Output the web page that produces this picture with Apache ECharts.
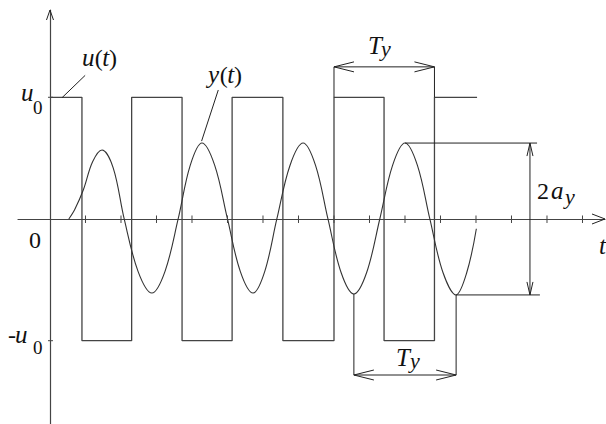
<!DOCTYPE html>
<html><head><meta charset="utf-8">
<script src="https://cdn.jsdelivr.net/npm/echarts@6/dist/echarts.min.js"></script>
<style>html,body{margin:0;padding:0;background:#fff}#c{width:606px;height:424px}
#c text{font-family:"Liberation Serif",serif !important}</style>
</head><body><div id="c"></div>
<script>
// ---- data (t in tick units, values in units of u0) ----
const switchTimes = [0, 0.9, 2.3, 3.72, 5.13, 6.56, 8.0, 9.41, 10.83, 12.03];
const uLevels = [1, -1, 1, -1, 1, -1, 1, -1, 1];
const yTimes = [0.53, 0.70, 0.94, 1.20, 1.465, 1.78, 2.09, 2.48, 2.87, 3.24, 3.61, 3.95, 4.28, 4.64, 5.00, 5.36, 5.72, 6.05, 6.39, 6.76, 7.13, 7.48, 7.83, 8.20, 8.56, 8.92, 9.29, 9.65, 10.00, 10.35, 10.70, 11.07, 11.44, 11.73, 12.01];
const yValues = [0, 0.08, 0.24, 0.47, 0.567, 0.42, 0, -0.43, -0.608, -0.43, 0, 0.44, 0.624, 0.44, 0, -0.43, -0.608, -0.43, 0, 0.44, 0.624, 0.44, 0, -0.44, -0.616, -0.44, 0, 0.44, 0.624, 0.44, 0, -0.44, -0.624, -0.45, -0.08];
const tickTimes = [1, 2, 3, 4, 5, 6, 7, 8, 9, 10, 11, 12, 13, 14, 15];
const levelTicks = [1, -1];

// ---- annotation geometry (data coordinates) ----
const xMin = -0.9014, xMax = 15.634, yMin = -1.6845, yMax = 1.7173;
const tyTopLevel = 1.25, tyBottomLevel = -1.282;
const tyTopSpan = [switchTimes[6], switchTimes[8]];
const peakIdx = 28, troughIdxA = 24, troughIdxB = 32;
const ampArrowT = 13.52, peakLineEnd = 13.72, troughLineEnd = 13.80;
const uLeader = [0.34, 0.997, 0.99, 1.18];
const yLeader = [4.27, 0.64, 4.74, 1.06];

// label pieces: text, style kind (i italic, r roman, s subscript digit, j subscript italic), baseline anchor
const labelTexts = ['u', '(', 't', ')', 'y', '(', 't', ')', 'u', '0', '0', '-', 'u', '0', 't', 'T', 'y', 'T', 'y', '2', 'a', 'y'];
const labelKinds = ['i', 'r', 'i', 'r', 'i', 'r', 'i', 'r', 'i', 's', 'r', 'r', 'i', 's', 'i', 'i', 'j', 'i', 'j', 'r', 'i', 'j'];
const labelT = [0.901, 1.262, 1.473, 1.662, 4.451, 4.78, 4.99, 5.18, -0.817, -0.479, -0.423, -1.183, -0.986, -0.479, 15.465, 8.958, 9.324, 9.746, 10.141, 13.718, 14.113, 14.507];
const labelV = [1.265, 1.265, 1.265, 1.265, 1.126, 1.126, 1.126, 1.126, 0.978, 0.871, -0.234, -1.011, -1.011, -1.101, -0.279, 1.364, 1.348, -1.2, -1.216, 0.173, 0.173, 0.131];

// ---- build series inputs ----
const uData = [];
uLevels.forEach((lv, i) => { uData.push([switchTimes[i], lv]); uData.push([switchTimes[i + 1], lv]); });
const yData = yTimes.map((t, i) => [t, yValues[i]]);

const pk = [yTimes[peakIdx], yValues[peakIdx]];
const trA = [yTimes[troughIdxA], yValues[troughIdxA]];
const trB = [yTimes[troughIdxB], yValues[troughIdxB]];
const segments = [
  [tyTopSpan[0], 1, tyTopSpan[0], tyTopLevel],
  [tyTopSpan[1], 1, tyTopSpan[1], tyTopLevel],
  [tyTopSpan[0], tyTopLevel, tyTopSpan[1], tyTopLevel],
  [pk[0], pk[1], peakLineEnd, pk[1]],
  [trB[0], trB[1], troughLineEnd, trB[1]],
  [ampArrowT, pk[1], ampArrowT, trB[1]],
  [trA[0], trA[1], trA[0], tyBottomLevel],
  [trB[0], trB[1], trB[0], tyBottomLevel],
  [trA[0], tyBottomLevel, trB[0], tyBottomLevel],
  uLeader, yLeader
];
// arrows: [t, v, direction(0 right,1 up,2 left,3 down), kind(0 axis-y,1 axis-x,2 T,3 amp)]
const arrows = [
  [0, yMax, 1, 0], [xMax, 0, 0, 1],
  [tyTopSpan[0], tyTopLevel, 2, 2], [tyTopSpan[1], tyTopLevel, 0, 2],
  [trA[0], tyBottomLevel, 2, 2], [trB[0], tyBottomLevel, 0, 2],
  [ampArrowT, pk[1], 1, 3], [ampArrowT, trB[1], 3, 3]
];
const arrowSize = [[10, 3.5], [13, 5], [20, 5], [13, 3]];

const FAM = 'Liberation Serif';
const kindStyle = {
  i: {fontStyle: 'italic', fontSize: 25},
  r: {fontStyle: 'normal', fontSize: 24},
  s: {fontStyle: 'normal', fontSize: 19},
  j: {fontStyle: 'italic', fontSize: 22}
};

const chart = echarts.init(document.getElementById('c'), null, {renderer: 'svg'});
const axisCommon = {
  type: 'value', axisTick: {show: false}, axisLabel: {show: false}, splitLine: {show: false},
  axisLine: {onZero: true, lineStyle: {color: '#444', width: 1.2}}
};
chart.setOption({
  animation: false,
  backgroundColor: '#fff',
  textStyle: {fontFamily: FAM},
  grid: {left: 18, right: 1, top: 10, bottom: 0},
  xAxis: Object.assign({min: xMin, max: xMax}, axisCommon),
  yAxis: Object.assign({min: yMin, max: yMax}, axisCommon),
  series: [
    {type: 'line', data: uData, symbol: 'none', lineStyle: {color: '#444', width: 1.3}, z: 3},
    {type: 'line', data: yData, smooth: 0.35, symbol: 'none', lineStyle: {color: '#333', width: 1.1}, z: 4},
    {type: 'custom', data: tickTimes.map(t => [t, 0]), z: 5, renderItem: (p, api) => {
      const c = api.coord([api.value(0), 0]);
      return {type: 'line', shape: {x1: c[0], y1: c[1] - 3.5, x2: c[0], y2: c[1] + 4}, style: {stroke: '#444', lineWidth: 1}};
    }},
    {type: 'custom', data: levelTicks.map(v => [0, v]), z: 5, renderItem: (p, api) => {
      const c = api.coord([0, api.value(1)]);
      return {type: 'line', shape: {x1: c[0] - 2, y1: c[1], x2: c[0] + 3, y2: c[1]}, style: {stroke: '#444', lineWidth: 1}};
    }},
    {type: 'custom', data: segments, z: 5, renderItem: (p, api) => {
      const a = api.coord([api.value(0), api.value(1)]);
      const b = api.coord([api.value(2), api.value(3)]);
      return {type: 'line', shape: {x1: a[0], y1: a[1], x2: b[0], y2: b[1]}, style: {stroke: '#222', lineWidth: 1}};
    }},
    {type: 'custom', data: arrows, z: 6, renderItem: (p, api) => {
      const c = api.coord([api.value(0), api.value(1)]);
      const dir = api.value(2), sz = arrowSize[api.value(3)];
      const L = sz[0], W = sz[1];
      const d = [[1, 0], [0, -1], [-1, 0], [0, 1]][dir];
      const n = [-d[1], d[0]];
      const pts = [
        [c[0] - d[0] * L + n[0] * W, c[1] - d[1] * L + n[1] * W],
        [c[0], c[1]],
        [c[0] - d[0] * L - n[0] * W, c[1] - d[1] * L - n[1] * W]
      ];
      return {type: 'polyline', shape: {points: pts}, style: {stroke: '#222', lineWidth: 1, fill: 'none'}};
    }}
  ]
});

// text labels placed through the chart's own coordinate conversion
chart.setOption({
  graphic: labelTexts.map((txt, i) => {
    const c = chart.convertToPixel({gridIndex: 0}, [labelT[i], labelV[i]]);
    const ks = kindStyle[labelKinds[i]];
    return {type: 'text', x: c[0], y: c[1] - 0.3 * ks.fontSize, z: 100,
      style: {text: txt, fontFamily: FAM, fontSize: ks.fontSize, fontStyle: ks.fontStyle,
        align: i === 10 ? 'center' : 'left', verticalAlign: 'middle', fill: '#111'}};
  })
});
</script></body></html>
